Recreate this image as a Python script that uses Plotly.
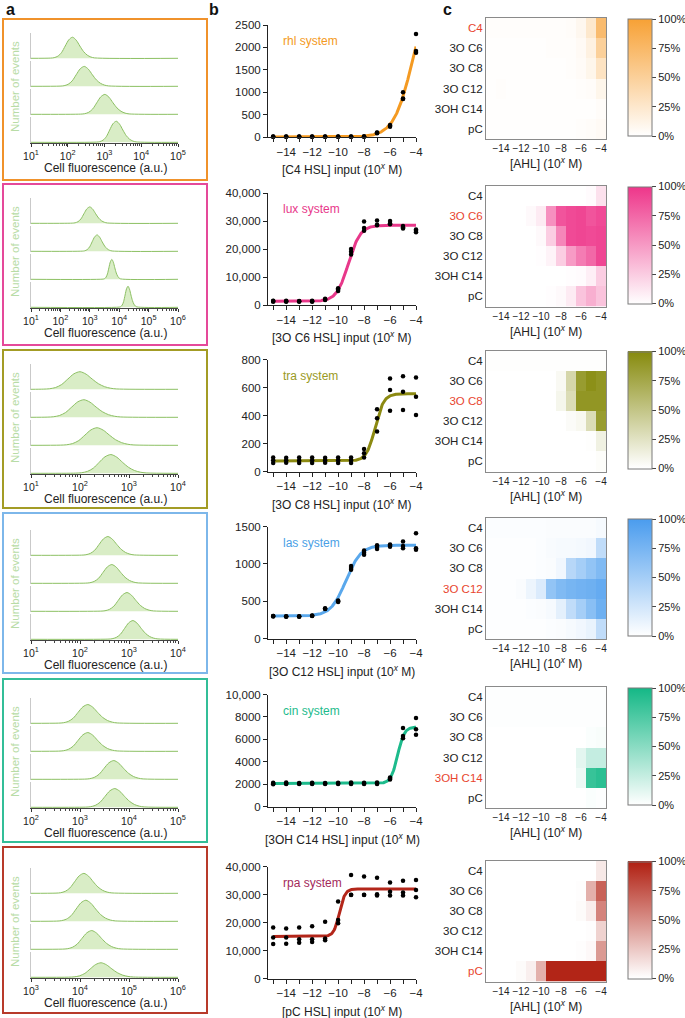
import numpy as np
import plotly.graph_objects as go

W, H = 685, 1018
FONT = "Liberation Sans, Arial, Helvetica, sans-serif"

# ---------------- data ----------------
SYSTEMS = ["rhl", "lux", "tra", "las", "cin", "rpa"]
SIGNALS = ["C4", "3O C6", "3O C8", "3O C12", "3OH C14", "pC"]
INPUT_LABELS = ["C4 HSL", "3O C6 HSL", "3O C8 HSL", "3O C12 HSL", "3OH C14 HSL", "pC HSL"]
CONC = [-15, -14, -13, -12, -11, -10, -9, -8, -7, -6, -5, -4]

LINE_COLORS = ["#F49A22", "#E8388A", "#8C8A12", "#5AA8EC", "#1DBB8C", "#B3261A"]
LABEL_COLORS = ["#F49A22", "#E8388A", "#9A9A1E", "#4A9FE6", "#1DBB8C", "#A3295A"]
BOX_COLORS = ["#F0922B", "#E5499A", "#A39C25", "#7DB7EA", "#33BE98", "#B83A2A"]
HEAT_COLORS = ["#F7A135", "#EE368A", "#868A0C", "#4A9CEE", "#14B886", "#B01E10"]
HIGHLIGHT = "#E8452E"

# panel a: flow cytometry histograms (log10 centre, spread in decades, relative height)
A_DECADES = [(1, 5), (1, 6), (1, 4), (1, 4), (2, 5), (3, 6)]
A_CENTERS = [[2.13, 2.45, 3.01, 3.32], [3.0, 3.25, 3.75, 4.3], [2.0, 2.08, 2.35, 2.63],
             [2.57, 2.65, 2.96, 3.08], [3.16, 3.16, 3.69, 3.71], [4.08, 4.12, 4.24, 4.43]]
A_SPREAD = [[0.2, 0.22, 0.22, 0.18], [0.2, 0.17, 0.1, 0.1], [0.25, 0.25, 0.25, 0.24],
            [0.18, 0.18, 0.18, 0.17], [0.2, 0.2, 0.2, 0.2], [0.19, 0.2, 0.2, 0.22]]
A_HEIGHT = [[0.9, 0.85, 0.85, 0.9], [0.7, 0.7, 0.85, 0.9], [0.75, 0.75, 0.75, 0.8],
            [0.8, 0.8, 0.8, 0.8], [0.8, 0.8, 0.8, 0.8], [0.85, 0.9, 0.8, 0.62]]
PROFILE_Z = [-3, -2.5, -2, -1.5, -1, -0.5, 0, 0.5, 1, 1.5, 2, 2.5, 3]
PROFILE_H = [0.01, 0.03, 0.1, 0.27, 0.58, 0.88, 1.0, 0.86, 0.58, 0.32, 0.15, 0.06, 0.02]

# panel b: dose response replicates
REP_RHL = [[5, 5, 5, 5, 5, 5, 5, 10, 85, 230, 850, 1880],
           [8, 8, 8, 8, 8, 8, 8, 8, 95, 250, 860, 1920],
           [10, 10, 10, 10, 10, 10, 10, 12, 100, 270, 1000, 2300]]
REP_LUX = [[1200, 1200, 1200, 1200, 1800, 5000, 18000, 26500, 28500, 28800, 27300, 26000],
           [1400, 1300, 1300, 1300, 2000, 5500, 19000, 27500, 28700, 29200, 27800, 26500],
           [1500, 1500, 1400, 1500, 2200, 6000, 20000, 29800, 30200, 30000, 28200, 27000]]
REP_TRA = [[60, 62, 60, 60, 62, 60, 60, 100, 285, 434, 439, 403],
           [80, 80, 78, 80, 80, 80, 80, 130, 380, 582, 570, 534],
           [100, 98, 100, 100, 98, 100, 100, 160, 444, 665, 681, 672]]
REP_LAS = [[295, 290, 290, 300, 395, 490, 920, 1120, 1200, 1230, 1210, 1190],
           [300, 295, 295, 305, 400, 500, 945, 1150, 1225, 1245, 1240, 1210],
           [302, 297, 297, 308, 405, 510, 970, 1180, 1250, 1260, 1300, 1410]]
REP_CIN = [[1980, 2000, 2000, 2000, 2000, 2000, 2000, 2000, 2000, 2400, 6100, 6400],
           [2050, 2050, 2050, 2050, 2050, 2050, 2050, 2050, 2050, 2500, 6300, 6900],
           [2120, 2150, 2100, 2120, 2100, 2120, 2150, 2120, 2150, 2600, 7000, 7900]]
REP_RPA = [[12300, 12400, 12800, 13000, 13700, 19700, 29850, 29850, 29600, 29600, 29600, 29000],
           [14600, 14600, 14000, 14000, 14300, 20900, 29900, 29900, 30100, 31000, 30700, 31600],
           [18200, 17900, 18200, 18700, 20300, 27500, 37000, 36400, 36000, 34300, 34900, 35200]]
REPS = [REP_RHL, REP_LUX, REP_TRA, REP_LAS, REP_CIN, REP_RPA]

# Hill fit parameters for the fitted curves
FIT_BOTTOM = [0, 1300, 75, 300, 2050, 15000]
FIT_TOP = [3449, 28500, 555, 1250, 7100, 32000]
FIT_LOGEC50 = [-4.25, -9.2, -7.15, -9.4, -5.42, -9.9]
FIT_HILL = [0.6, 0.95, 1.3, 0.75, 1.7, 2.0]

B_YTICKS = [[0, 500, 1000, 1500, 2000, 2500], [0, 10000, 20000, 30000, 40000],
            [0, 200, 400, 600, 800], [0, 500, 1000, 1500],
            [0, 2000, 4000, 6000, 8000, 10000], [0, 10000, 20000, 30000, 40000]]
B_YTEXT = [["0", "500", "1000", "1500", "2000", "2500"], ["0", "10,000", "20,000", "30,000", "40,000"],
           ["0", "200", "400", "600", "800"], ["0", "500", "1000", "1500"],
           ["0", "2000", "4000", "6000", "8000", "10,000"], ["0", "10,000", "20,000", "30,000", "40,000"]]

# panel c: normalised response heatmaps (rows = SIGNALS, cols = CONC)
HEAT_RHL = [[.02, .02, .02, .02, .02, .02, .02, .02, .03, .08, .25, .72],
            [.01, .01, .01, .01, .01, .01, .02, .02, .02, .05, .15, .50],
            [.01, .01, .01, .01, .01, .01, .01, .01, .02, .04, .10, .30],
            [.01, .02, .01, .01, .01, .01, .01, .01, .01, .02, .03, .10],
            [.01, .01, .01, .01, .01, .01, .01, .01, .01, .01, .01, .03],
            [.01, .01, .01, .01, .01, .01, .01, .01, .01, .02, .03, .05]]
HEAT_LUX = [[0, 0, 0, 0, 0, 0, 0, 0, 0, 0, .02, .15],
            [0, 0, 0, 0, .03, .10, .55, .85, .90, .92, .85, .90],
            [0, 0, 0, 0, 0, .03, .25, .60, .90, .92, .90, .92],
            [0, 0, 0, 0, 0, .01, .06, .25, .50, .65, .75, .92],
            [0, 0, 0, 0, 0, 0, 0, 0, .01, .02, .08, .25],
            [0, 0, 0, 0, 0, 0, .01, .03, .10, .30, .40, .30]]
HEAT_TRA = [[.01, .01, .01, .01, .01, .01, .01, .01, .01, .01, .01, .01],
            [0, 0, 0, 0, 0, 0, 0, .05, .35, .85, .95, .90],
            [0, 0, 0, 0, 0, 0, 0, .08, .30, .90, .90, .90],
            [0, 0, 0, 0, 0, 0, 0, 0, .03, .06, .30, .85],
            [0, 0, 0, 0, 0, 0, 0, 0, 0, 0, .01, .12],
            [0, 0, 0, 0, 0, 0, 0, 0, 0, 0, 0, .02]]
HEAT_LAS = [[.02, .02, .02, .02, .02, .02, .03, .03, .03, .03, .03, .05],
            [.01, .01, .01, .01, .01, .02, .04, .05, .05, .06, .08, .35],
            [.01, .01, .01, .01, .01, .02, .03, .08, .40, .50, .60, .70],
            [.01, .01, .01, .03, .10, .20, .60, .70, .75, .78, .80, .85],
            [.01, .01, .01, .01, .02, .03, .05, .15, .35, .50, .65, .80],
            [.01, .01, .01, .01, .01, .01, .02, .03, .05, .08, .12, .35]]
HEAT_CIN = [[.01, .01, .01, .01, .01, .01, .01, .01, .01, .01, .01, .01],
            [.01, .01, .01, .01, .01, .01, .01, .01, .01, .01, .01, .01],
            [0, 0, 0, 0, 0, 0, 0, 0, 0, 0, .02, .03],
            [0, 0, 0, 0, 0, 0, 0, 0, 0, .12, .25, .25],
            [0, 0, 0, 0, 0, 0, 0, 0, 0, .08, .85, .90],
            [0, 0, 0, 0, 0, 0, 0, 0, 0, 0, .02, .01]]
HEAT_RPA = [[0, 0, 0, 0, 0, 0, 0, 0, 0, 0, 0, .10],
            [0, 0, 0, 0, 0, 0, 0, 0, 0, .01, .35, .70],
            [0, 0, 0, 0, 0, 0, 0, 0, 0, .02, .08, .55],
            [0, 0, 0, 0, 0, 0, 0, 0, 0, 0, .01, .20],
            [0, 0, 0, 0, 0, 0, 0, 0, 0, .01, .03, .45],
            [0, 0, 0, .02, .07, .35, .97, .97, .97, .97, .97, .97]]
HEATS = [HEAT_RHL, HEAT_LUX, HEAT_TRA, HEAT_LAS, HEAT_CIN, HEAT_RPA]

# ---------------- geometry (pixels) ----------------
BOX_TOP = [19, 184, 350, 513, 679, 847]
BOX_BOT = [180, 345, 508, 673, 842, 1013]
A_BASE = [143, 308, 474, 640, 808, 978]
B_BOT = [137, 305, 471.5, 638.5, 806.5, 978.5]
C_BOT = [139, 306.5, 471.5, 639, 808, 981.5]


def px(x):
    return x / W


def py(y):
    return 1 - y / H


def minus(v):
    return str(v).replace("-", "\u2212")


layout = dict(width=W, height=H, margin=dict(l=0, r=0, t=0, b=0, pad=0, autoexpand=False),
              paper_bgcolor="white", plot_bgcolor="rgba(0,0,0,0)", showlegend=False,
              font=dict(family=FONT, size=11, color="#222"))
traces, shapes, annotations = [], [], []
counter = {"x": 0, "y": 0}


def new_axis(kind):
    counter[kind] += 1
    n = counter[kind]
    return (kind if n == 1 else f"{kind}{n}"), (f"{kind}axis" if n == 1 else f"{kind}axis{n}")


def note(text, x, y, size=12, color="#222", xanchor="center", angle=0):
    annotations.append(dict(text=text, x=px(x), y=py(y), xref="paper", yref="paper", xanchor=xanchor,
                            yanchor="middle", textangle=angle, showarrow=False,
                            font=dict(size=size, color=color)))


for r in range(6):
    # ---------- panel a ----------
    shapes.append(dict(type="rect", xref="paper", yref="paper", x0=px(3), x1=px(207),
                       y0=py(BOX_TOP[r]), y1=py(BOX_BOT[r]), line=dict(color=BOX_COLORS[r], width=2)))
    lo, hi = A_DECADES[r]
    xa, xakey = new_axis("x")
    bottom_y = None
    for k in range(4):
        base = A_BASE[r] - 84 + 28 * k
        ya, yakey = new_axis("y")
        layout[yakey] = dict(domain=[py(base), py(base - 26)], range=[-0.03, 1.08], anchor=xa,
                             showline=True, linecolor="#c9c9c9", linewidth=1, showticklabels=False,
                             ticks="", showgrid=False, zeroline=False)
        c, s, h = A_CENTERS[r][k], A_SPREAD[r][k], A_HEIGHT[r][k]
        xs = [10 ** lo] + [10 ** (c + z * s) for z in PROFILE_Z] + [10 ** hi]
        ys = [0] + [h * p for p in PROFILE_H] + [0]
        traces.append(go.Scatter(x=xs, y=ys, xaxis=xa, yaxis=ya, mode="lines",
                                 line=dict(color="#8CC063", width=1, shape="spline", smoothing=0.8),
                                 fill="tozeroy", fillcolor="rgba(196,228,168,0.65)", hoverinfo="skip"))
        bottom_y = ya
    layout[xakey] = dict(type="log", domain=[px(31), px(178)], range=[lo, hi], anchor=bottom_y,
                         tickmode="array", tickvals=[10 ** d for d in range(lo, hi + 1)],
                         ticktext=[f"10<sup>{d}</sup>" for d in range(lo, hi + 1)], tickangle=0,
                         ticks="outside", ticklen=3, tickcolor="#333", showline=True, linecolor="#444",
                         linewidth=1, showgrid=False, zeroline=False, tickfont=dict(size=10.5),
                         minor=dict(tickmode="array",
                                    tickvals=[m * 10 ** d for d in range(lo, hi) for m in range(2, 10)],
                                    ticks="outside", ticklen=2, tickcolor="#444", showgrid=False))
    note("Number of events", 15, A_BASE[r] - 56, size=11.5, color="#B8DCA6", angle=-90)
    note("Cell fluorescence (a.u.)", 105, A_BASE[r] + 25, size=12)

    # ---------- panel b ----------
    xb, xbkey = new_axis("x")
    yb, ybkey = new_axis("y")
    top = B_BOT[r] - 112
    layout[xbkey] = dict(domain=[px(268), px(416)], range=[-15.4, -4], anchor=yb, tickmode="array",
                         tickvals=CONC, ticktext=[minus(v) if v % 2 == 0 else "" for v in CONC],
                         tickangle=0, ticks="outside", ticklen=4, tickcolor="#222", showline=True,
                         linecolor="#222", linewidth=1, showgrid=False, zeroline=False,
                         tickfont=dict(size=11.5))
    layout[ybkey] = dict(domain=[py(B_BOT[r]), py(top)], range=[0, B_YTICKS[r][-1]], anchor=xb,
                         tickmode="array", tickvals=B_YTICKS[r], ticktext=B_YTEXT[r], ticks="outside",
                         ticklen=4, tickcolor="#222", showline=True, linecolor="#222", linewidth=1,
                         showgrid=False, zeroline=False, tickfont=dict(size=11.5))
    xfit = np.linspace(CONC[0], CONC[-1], 300)
    yfit = FIT_BOTTOM[r] + (FIT_TOP[r] - FIT_BOTTOM[r]) / (1 + 10 ** (FIT_HILL[r] * (FIT_LOGEC50[r] - xfit)))
    traces.append(go.Scatter(x=xfit, y=yfit, xaxis=xb, yaxis=yb, mode="lines",
                             line=dict(color=LINE_COLORS[r], width=3), hoverinfo="skip", cliponaxis=False))
    for rep in REPS[r]:
        traces.append(go.Scatter(x=CONC, y=rep, xaxis=xb, yaxis=yb, mode="markers",
                                 marker=dict(color="black", size=4.5), cliponaxis=False, hoverinfo="skip"))
    note(f"{SYSTEMS[r]} system", 281, top + 16, size=12, color=LABEL_COLORS[r], xanchor="left")
    note(f"[{INPUT_LABELS[r]}] input (10<sup><i>x</i></sup> M)", 342, B_BOT[r] + 32, size=12)

    # ---------- panel c ----------
    xc, xckey = new_axis("x")
    yc, yckey = new_axis("y")
    ctop = C_BOT[r] - 121
    layout[xckey] = dict(domain=[px(486), px(606)], range=[-15.5, -3.5], anchor=yc, tickmode="array",
                         tickvals=[-14, -12, -10, -8, -6, -4],
                         ticktext=[minus(v) for v in [-14, -12, -10, -8, -6, -4]], tickangle=0, ticks="",
                         showline=True, mirror=True, linecolor="#8a8a8a", linewidth=1, showgrid=False,
                         zeroline=False, tickfont=dict(size=10))
    ytext = [(f"<span style='color:{HIGHLIGHT}'>{s}</span>" if i == r else s) for i, s in enumerate(SIGNALS)]
    layout[yckey] = dict(domain=[py(C_BOT[r]), py(ctop)], range=[5.5, -0.5], anchor=xc, tickmode="array",
                         tickvals=list(range(6)), ticktext=ytext, ticks="", showline=True, mirror=True,
                         linecolor="#8a8a8a", linewidth=1, showgrid=False, zeroline=False,
                         tickfont=dict(size=11.5))
    traces.append(go.Heatmap(z=HEATS[r], x=CONC, y=list(range(6)), xaxis=xc, yaxis=yc, zmin=0, zmax=1,
                             colorscale=[[0, "#FFFFFF"], [1, HEAT_COLORS[r]]], hoverinfo="skip",
                             colorbar=dict(thickness=24, thicknessmode="pixels", len=117, lenmode="pixels",
                                           x=px(628), xanchor="left", y=py(ctop + 59.5), yanchor="middle",
                                           tickmode="array", tickvals=[0, 0.25, 0.5, 0.75, 1],
                                           ticktext=["0%", "25%", "50%", "75%", "100%"], ticks="outside",
                                           ticklen=4, tickcolor="#444", outlinewidth=1, outlinecolor="#7a7a7a",
                                           xpad=0, ypad=0, tickfont=dict(size=11))))
    note("[AHL] (10<sup><i>x</i></sup> M)", 546, C_BOT[r] + 24, size=12)

for letter, lx in zip(["a", "b", "c"], [4, 207, 441]):
    note(f"<b>{letter}</b>", lx, 9, size=16, color="#111", xanchor="left")

layout["shapes"] = shapes
layout["annotations"] = annotations
fig = go.Figure(data=traces, layout=layout)
fig.write_html("out.html", config={"displayModeBar": False},
               post_script="document.body.style.margin='0';document.body.style.padding='0';")
